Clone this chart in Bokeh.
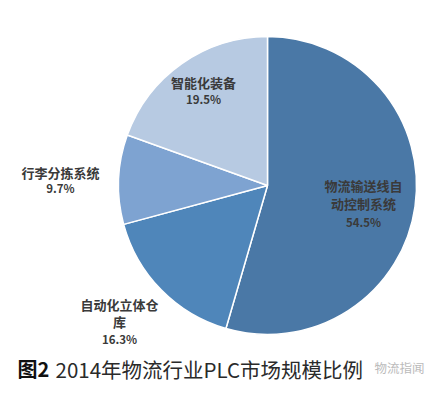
import math
from bokeh.plotting import figure
from bokeh.models import ColumnDataSource
from bokeh.core.properties import value
from bokeh.embed import file_html
from bokeh.resources import INLINE

# ---- data ----
categories = ["物流输送线自动控制系统", "自动化立体仓库", "行李分拣系统", "智能化装备"]
shares = [54.5, 16.3, 9.7, 19.5]
share_labels = ["54.5%", "16.3%", "9.7%", "19.5%"]
label_lines = [["物流输送线自", "动控制系统"], ["自动化立体仓", "库"], ["行李分拣系统"], ["智能化装备"]]
colors = ["#4A78A6", "#4F86BA", "#7EA3D1", "#B7CAE2"]
title_bold = "图2"
title_text = "2014年物流行业PLC市场规模比例"
watermark = "物流指闻"

W, H = 440, 393
p = figure(width=W, height=H, x_range=(0, W), y_range=(0, H),
           output_backend="svg", toolbar_location=None, min_border=0)
p.axis.visible = False
p.grid.visible = False
p.outline_line_color = None
p.background_fill_color = "white"
p.border_fill_color = "white"

def X(rx):
    return rx

def Y(ry):
    return H - ry

cx, cy, r = X(267), Y(185), 149
total = sum(shares)
starts, ends = [], []
cum = 0.0
for s in shares:
    starts.append(math.pi / 2 - 2 * math.pi * cum / total)
    cum += s
    ends.append(math.pi / 2 - 2 * math.pi * cum / total)

src = ColumnDataSource(dict(start=starts, end=ends, color=colors, cat=categories))
p.wedge(x=cx, y=cy, radius=r, start_angle="start", end_angle="end", direction="clock",
        fill_color="color", line_color="white", line_width=1.5, source=src)

# label anchors (reference pixel coords): x centre, per-line y, percent y
anchors = [
    (363, [185, 203], 221),
    (119, [304, 321], 338),
    (60, [172], 187),
    (203, [82], 98),
]
font = value("Noto Sans CJK SC")
for (ax, ys, py), lines, pl in zip(anchors, label_lines, share_labels):
    for line, ly in zip(lines, ys):
        p.text(x=[X(ax)], y=[Y(ly)], text=[line], text_font=font, text_font_size="13px",
               text_font_style="bold", text_color="#3a3a3a",
               text_align="center", text_baseline="middle")
    p.text(x=[X(ax)], y=[Y(py)], text=[pl], text_font=font, text_font_size="11.5px",
           text_font_style="bold", text_color="#3a3a3a",
           text_align="center", text_baseline="middle")

# title
p.text(x=[X(17)], y=[Y(368)], text=[title_bold], text_font=font, text_font_size="20px",
       text_font_style="bold", text_color="#111111", text_align="left", text_baseline="middle")
p.text(x=[X(55)], y=[Y(368)], text=[title_text], text_font=font, text_font_size="20.5px",
       text_color="#2a2a2a", text_align="left", text_baseline="middle")
p.text(x=[X(374)], y=[Y(367)], text=[watermark], text_font=font, text_font_size="12.5px",
       text_color="#bbbbbb", text_align="left", text_baseline="middle")

open("out.html", "w").write(file_html(p, INLINE))
